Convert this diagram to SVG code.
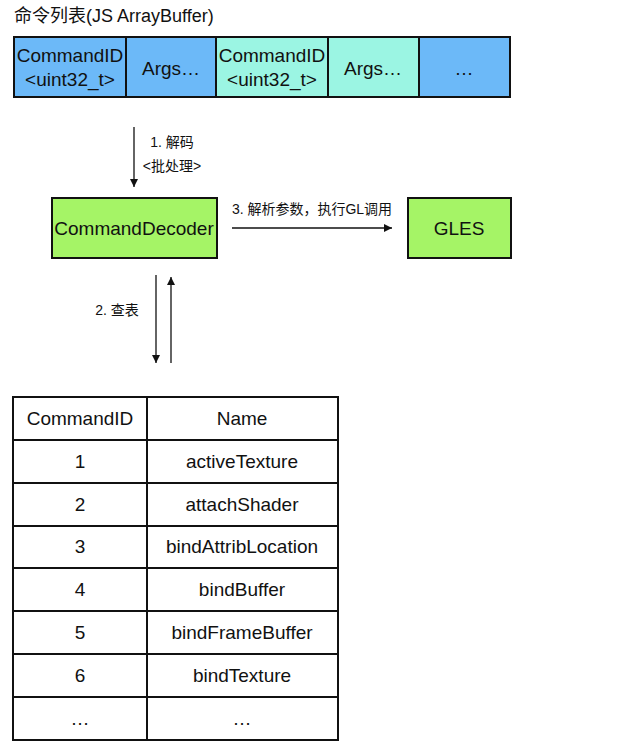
<svg xmlns="http://www.w3.org/2000/svg" width="641" height="752" viewBox="0 0 641 752">
<style>
text{font-family:"Liberation Sans","Noto Sans CJK SC",sans-serif;fill:#111;text-anchor:middle}
.b{stroke:#111;stroke-width:2}
.l{stroke:#111;stroke-width:1.3;fill:none}
.t{font-size:19px}
.s{font-size:14px}
</style>
<defs><marker id="a" markerWidth="10" markerHeight="10" refX="8" refY="4" orient="auto" markerUnits="userSpaceOnUse"><path d="M0,0L8,4L0,8z" fill="#111"/></marker></defs>
<rect width="641" height="752" fill="#fff"/>
<text x="14" y="22" style="text-anchor:start;font-size:18px">命令列表(JS ArrayBuffer)</text>
<g id="buffer">
<rect x="14" y="37" width="112" height="60" fill="#6cb9f8" class="b"/>
<rect x="126" y="37" width="90" height="60" fill="#6cb9f8" class="b"/>
<rect x="216" y="37" width="112" height="60" fill="#9bf5e3" class="b"/>
<rect x="328" y="37" width="91" height="60" fill="#9bf5e3" class="b"/>
<rect x="419" y="37" width="91" height="60" fill="#6cb9f8" class="b"/>
<text x="70" y="62" class="t">CommandID</text><text x="70" y="86" class="t">&lt;uint32_t&gt;</text>
<text x="171" y="75" class="t">Args…</text>
<text x="272" y="62" class="t">CommandID</text><text x="272" y="86" class="t">&lt;uint32_t&gt;</text>
<text x="373" y="75" class="t">Args…</text>
<text x="464" y="75" class="t">…</text>
</g>
<g id="decoder"><rect x="52" y="198" width="165" height="60" fill="#a5f466" class="b"/><text x="134" y="235" class="t">CommandDecoder</text></g>
<g id="gles"><rect x="408" y="198" width="103" height="60" fill="#a5f466" class="b"/><text x="459" y="235" class="t">GLES</text></g>
<g id="connectors">
<line x1="134" y1="127" x2="134" y2="187" class="l" marker-end="url(#a)"/>
<text x="172" y="147" class="s">1. 解码</text><text x="172" y="171" class="s">&lt;批处理&gt;</text>
<line x1="232" y1="228" x2="392" y2="228" class="l" marker-end="url(#a)"/>
<text x="312" y="214" class="s">3. 解析参数，执行GL调用</text>
<line x1="156" y1="275" x2="156" y2="363" class="l" marker-end="url(#a)"/>
<line x1="171" y1="363" x2="171" y2="277" class="l" marker-end="url(#a)"/>
<text x="117" y="315" class="s">2. 查表</text>
</g>
<g id="table">
<rect x="13" y="397" width="325" height="343" fill="#fff" class="b"/>
<line x1="147" y1="397" x2="147" y2="740" class="b"/>
<g class="b">
<line x1="13" y1="440" x2="338" y2="440"/><line x1="13" y1="483" x2="338" y2="483"/><line x1="13" y1="526" x2="338" y2="526"/><line x1="13" y1="568" x2="338" y2="568"/><line x1="13" y1="611" x2="338" y2="611"/><line x1="13" y1="654" x2="338" y2="654"/><line x1="13" y1="697" x2="338" y2="697"/>
</g>
<g class="t">
<text x="80" y="425">CommandID</text><text x="242" y="425">Name</text>
<text x="80" y="468">1</text><text x="242" y="468">activeTexture</text>
<text x="80" y="511">2</text><text x="242" y="511">attachShader</text>
<text x="80" y="553">3</text><text x="242" y="553">bindAttribLocation</text>
<text x="80" y="596">4</text><text x="242" y="596">bindBuffer</text>
<text x="80" y="639">5</text><text x="242" y="639">bindFrameBuffer</text>
<text x="80" y="682">6</text><text x="242" y="682">bindTexture</text>
<text x="80" y="725">…</text><text x="242" y="725">…</text>
</g>
</g>
</svg>
